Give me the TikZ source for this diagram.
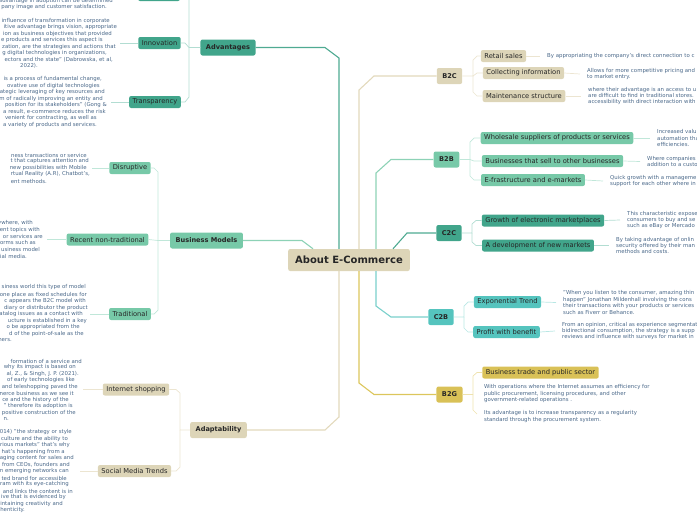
\documentclass[tikz,border=0pt]{standalone}
\usepackage{fontspec}
\setmainfont{DejaVu Sans}
\usepackage{tikz}

\definecolor{beige}{HTML}{DDD5B8}
\definecolor{beigeline}{HTML}{E2D9BC}
\definecolor{beigetwig}{HTML}{ECE5D1}
\definecolor{mint}{HTML}{77C9A8}
\definecolor{mintline}{HTML}{8DD2B6}
\definecolor{minttwig}{HTML}{C0E7D9}
\definecolor{tealdark}{HTML}{41A58B}
\definecolor{tealline}{HTML}{4FAA92}
\definecolor{tealtwig}{HTML}{B2DDD2}
\definecolor{turq}{HTML}{55C4BE}
\definecolor{turqline}{HTML}{79D0CB}
\definecolor{turqtwig}{HTML}{B8E7E4}
\definecolor{gold}{HTML}{D9C157}
\definecolor{goldline}{HTML}{DCC65C}
\definecolor{goldtwig}{HTML}{EEE2AE}
\definecolor{notecol}{HTML}{4A6889}

\begin{document}
\begin{tikzpicture}[x=1pt, y=-1pt,
    box/.style={rounded corners=2pt, inner xsep=3.5pt, inner ysep=0pt,
      minimum height=12pt, text=black!85, font=\fontsize{6.7}{7.5}\selectfont},
    topic/.style={box, minimum height=16pt, inner xsep=5.5pt,
      font=\fontsize{6.6}{7}\selectfont\bfseries},
    note/.style={inner sep=0pt, align=left, text=notecol,
      font=\fontsize{5.4}{6.4}\selectfont},
    trunk/.style={line width=1.1pt},
    twig/.style={line width=0.7pt}]

\useasboundingbox (0,0) rectangle (697,520);
\clip (0,0) rectangle (697,520);

% Centre
\node[topic, fill=beige, minimum height=22pt, inner xsep=7pt,
  font=\fontsize{10}{12}\selectfont\bfseries] (ctr) at (349,260) {About E-Commerce};

% Right topics
\node[topic, fill=beige] (b2c) at (449.5,76) {B2C};
\node[topic, fill=mint] (b2b) at (446.5,159.5) {B2B};
\node[topic, fill=tealdark] (c2c) at (449,233) {C2C};
\node[topic, fill=turq] (c2b) at (441,317) {C2B};
\node[topic, fill=gold] (b2g) at (449.5,394.5) {B2G};

% Left topics
\node[topic, fill=tealdark] (adv) at (228,47.5) {Advantages};
\node[topic, fill=mint] (bm) at (206.5,240.5) {Business Models};
\node[topic, fill=beige] (adp) at (218.5,430) {Adaptability};

% Trunks
\draw[trunk, beigeline] ([xshift=10pt]ctr.north) -- (359,90) -- (374,76) -- (b2c.west);
\draw[trunk, mintline] ([xshift=27pt]ctr.north) -- (376,173) -- (391,159.5) -- (b2b.west);
\draw[trunk, tealline] ([xshift=44pt]ctr.north) -- (407,233) -- (c2c.west);
\draw[trunk, turqline] ([xshift=27pt]ctr.south) -- (376,306) -- (391,317) -- (c2b.west);
\draw[trunk, goldline] ([xshift=10pt]ctr.south) -- (359,383) -- (374,394.5) -- (b2g.west);
\draw[trunk, tealline] ([xshift=-10pt]ctr.north) -- (339,58) -- (325,47.5) -- (adv.east);
\draw[trunk, mintline] ([xshift=-36pt]ctr.north) -- (302,240.5) -- (bm.east);
\draw[trunk, beigeline] ([xshift=-10pt]ctr.south) -- (339,417) -- (325,430) -- (adp.east);

% B2C
\node[box, fill=beige] (retail) at (503.5,56) {Retail sales};
\node[box, fill=beige] (collect) at (523.5,73) {Collecting information};
\node[box, fill=beige] (maint) at (524,96) {Maintenance structure};
\draw[twig, beigetwig] (b2c.east) -- (473,76) -- (473,60) -- (477,56) -- (retail.west);
\draw[twig, beigetwig] (473,76) -- (477,73) -- (collect.west);
\draw[twig, beigetwig] (473,76) -- (473,92) -- (477,96) -- (maint.west);
\node[note, anchor=west] (retailnote) at (547,56)
  {By appropriating the company's direct connection to c};
\node[note, anchor=west] (collectnote) at (587,74)
  {Allows for more competitive pricing and\\to market entry.};
\node[note, anchor=west] (maintnote) at (588,96)
  {where their advantage is an access to u\\are difficult to find in traditional stores.\\accessibility with direct interaction with};
\draw[twig, beigetwig] (retail.east) -- ([xshift=-7pt]retailnote.west);
\draw[twig, beigetwig] (collect.east) -- ([xshift=-7pt]collectnote.west);
\draw[twig, beigetwig] (maint.east) -- ([xshift=-7pt]maintnote.west);

% B2B
\node[box, fill=mint] (whole) at (557,138) {Wholesale suppliers of products or services};
\node[box, fill=mint] (sell) at (552.5,161) {Businesses that sell to other businesses};
\node[box, fill=mint] (efra) at (533,180) {E-frastructure and e-markets};
\draw[twig, minttwig] (b2b.east) -- (470,159.5) -- (470,142) -- (474,138) -- (whole.west);
\draw[twig, minttwig] (470,159.5) -- (474,161) -- (sell.west);
\draw[twig, minttwig] (470,159.5) -- (470,176) -- (474,180) -- (efra.west);
\node[note, anchor=west] (wholenote) at (657,138)
  {Increased valu\\automation tha\\efficiencies.};
\node[note, anchor=west] (sellnote) at (647,161.5)
  {Where companies\\addition to a custo};
\node[note, anchor=west] (efranote) at (610,181)
  {Quick growth with a manageme\\support for each other where in};
\draw[twig, minttwig] (whole.east) -- ([xshift=-7pt]wholenote.west);
\draw[twig, minttwig] (sell.east) -- ([xshift=-7pt]sellnote.west);
\draw[twig, minttwig] (efra.east) -- ([xshift=-7pt]efranote.west);

% C2C
\node[box, fill=tealdark] (growth) at (543,220.5) {Growth of electronic marketplaces};
\node[box, fill=tealdark] (newmkt) at (538,245.5) {A development of new markets};
\draw[twig, tealtwig] (c2c.east) -- (472,233) -- (472,224) -- (476,220.5) -- (growth.west);
\draw[twig, tealtwig] (472,233) -- (472,242) -- (476,245.5) -- (newmkt.west);
\node[note, anchor=west] (growthnote) at (627,220)
  {This characteristic expose\\consumers to buy and se\\such as eBay or Mercado};
\node[note, anchor=west] (newmktnote) at (616,245.5)
  {By taking advantage of onlin\\security offered by their man\\methods and costs.};
\draw[twig, tealtwig] (growth.east) -- ([xshift=-7pt]growthnote.west);
\draw[twig, tealtwig] (newmkt.east) -- ([xshift=-7pt]newmktnote.west);

% C2B
\node[box, fill=turq] (expo) at (507.5,302) {Exponential Trend};
\node[box, fill=turq] (profit) at (506.5,332) {Profit with benefit};
\draw[twig, turqtwig] (c2b.east) -- (464,317) -- (464,306) -- (468,302) -- (expo.west);
\draw[twig, turqtwig] (464,317) -- (464,328) -- (468,332) -- (profit.west);
\node[note, anchor=west] (exponote) at (563,302.5)
  {"When you listen to the consumer, amazing thin\\happen" Jonathan Mildenhall involving the cons\\their transactions with your products or services\\such as Fiverr or Behance.};
\node[note, anchor=west] (profitnote) at (562,331)
  {From an opinion, critical as experience segmentat\\bidirectional consumption, the strategy is a supp\\reviews and influence with surveys for market in};
\draw[twig, turqtwig] (expo.east) -- ([xshift=-7pt]exponote.west);
\draw[twig, turqtwig] (profit.east) -- ([xshift=-7pt]profitnote.west);

% B2G
\node[box, fill=gold] (trade) at (540.5,372.5) {Business trade and public sector};
\node[note, anchor=north west] (g2note) at (484,384.5)
  {With operations where the Internet assumes an efficiency for\\public procurement, licensing procedures, and other\\government-related operations .};
\node[note, anchor=north west] (g3note) at (484,410.5)
  {Its advantage is to increase transparency as a regularity\\standard through the procurement system.};
\draw[twig, goldtwig] (b2g.east) -- (473,394.5) -- (473,376) -- (477,372.5) -- (trade.west);
\draw[twig, goldtwig] (473,394.5) -- (473,410) -- (477,414);

% Advantages
\node[box, fill=tealdark, minimum width=42pt] (topadv) at (159,-5) {};
\node[box, fill=tealdark] (innov) at (159.5,43) {Innovation};
\node[box, fill=tealdark] (transp) at (155,102) {Transparency};
\draw[twig, tealtwig] (adv.west) -- (189,47.5) -- (189,-1) -- (185,-5) -- (topadv.east);
\draw[twig, tealtwig] (189,47.5) -- (185,43) -- (innov.east);
\draw[twig, tealtwig] (189,47.5) -- (189,97) -- (185,102) -- (transp.east);
\coordinate (innovtip) at (120,43);
\coordinate (transptip) at (111,102);
\draw[twig, tealtwig] (innov.west) -- (innovtip);
\draw[twig, tealtwig] (transp.west) -- (transptip);
\foreach \ty/\rx/\tx [count=\i] in {1/113/{advantage in adoption can be determined},
    7/107/{pany image and customer satisfaction.}}
  \node[note, anchor=east] (topnote\i) at (\rx,\ty) {\tx};
\foreach \ty/\rx/\tx [count=\i] in {21/110/{influence of transformation in corporate},
    27/117/{itive advantage brings vision, appropriate},
    34/112/{ion as business objectives that provided},
    40/103/{e products and services this aspect is},
    47/116/{zation, are the strategies and actions that},
    53/107/{g digital technologies in organizations,},
    60/113/{ectors and the state" (Dabrowska, et al,},
    66/38/{2022).}}
  \node[note, anchor=east] (innovnote\i) at (\rx,\ty) {\tx};
\foreach \ty/\rx/\tx [count=\i] in {79/102/{is a process of fundamental change,},
    86/100/{ovative use of digital technologies},
    92/105/{ategic leveraging of key resources and},
    99/103/{m of radically improving an entity and},
    105/107/{position for its stakeholders" (Gong \&},
    112/106/{a result, e-commerce reduces the risk},
    118/97/{venient for contracting, as well as},
    125/97/{a variety of products and services.}}
  \node[note, anchor=east] (transpnote\i) at (\rx,\ty) {\tx};

% Business Models
\node[box, fill=mint] (disr) at (130,168) {Disruptive};
\node[box, fill=mint] (recent) at (107.5,239.5) {Recent non-traditional};
\node[box, fill=mint] (trad) at (130,314) {Traditional};
\draw[twig, minttwig] (bm.west) -- (158,240.5) -- (158,172) -- (154,168) -- (disr.east);
\draw[twig, minttwig] (158,240.5) -- (recent.east);
\draw[twig, minttwig] (158,240.5) -- (158,310) -- (154,314) -- (trad.east);
\coordinate (disrtip) at (92,168);
\coordinate (recenttip) at (47,239.5);
\coordinate (tradtip) at (90,314);
\draw[twig, minttwig] (disr.west) -- (disrtip);
\draw[twig, minttwig] (recent.west) -- (recenttip);
\draw[twig, minttwig] (trad.west) -- (tradtip);
\foreach \ty/\rx/\tx [count=\i] in {155/87/{ness transactions or service},
    161/89/{t that captures attention and},
    168/87/{new possibilities with Mobile},
    174/90/{rtual Reality (A.R), Chatbot's,},
    181/47/{ent methods.}}
  \node[note, anchor=east] (disrnote\i) at (\rx,\ty) {\tx};
\foreach \ty/\rx/\tx [count=\i] in {223/33/{ywhere, with},
    230/40/{ent topics with},
    236/43/{or services are},
    242/36/{tforms such as},
    249/40/{usiness model},
    256/27/{ial media.}}
  \node[note, anchor=east] (recentnote\i) at (\rx,\ty) {\tx};
\foreach \ty/\rx/\tx [count=\i] in {287/86/{siness world this type of model},
    295/87/{one place as fixed schedules for},
    301/86/{c appears the B2C model with},
    308/88/{diary or distributor the product},
    314/83/{catalog issues as a contact with},
    321/87/{ucture is established in a key},
    327/80/{o be appropriated from the},
    334/84/{d of the point-of-sale as the},
    340/12/{ners.}}
  \node[note, anchor=east] (tradnote\i) at (\rx,\ty) {\tx};

% Adaptability
\node[box, fill=beige] (inet) at (136,389.5) {Internet shopping};
\node[box, fill=beige] (social) at (134.5,471) {Social Media Trends};
\draw[twig, beigetwig] (adp.west) -- (180,430) -- (180,393) -- (176,389.5) -- (inet.east);
\draw[twig, beigetwig] (180,430) -- (180,467) -- (176,471) -- (social.east);
\coordinate (inettip) at (83,389.5);
\coordinate (socialtip) at (80,471);
\draw[twig, beigetwig] (inet.west) -- (inettip);
\draw[twig, beigetwig] (social.west) -- (socialtip);
\foreach \ty/\rx/\tx [count=\i] in {361/82/{formation of a service and},
    367/76/{why its impact is based on},
    374/79/{al, Z., \& Singh, J. P. (2021).},
    380/75/{of early technologies like},
    387/78/{and teleshopping paved the},
    393/74/{nerce business as we see it},
    400/69/{ce and the history of the},
    406/73/{" therefore its adoption is},
    413/76/{positive construction of the},
    419/9/{n.}}
  \node[note, anchor=east] (inetnote\i) at (\rx,\ty) {\tx};
\foreach \ty/\rx/\tx [count=\i] in {432/72/{014) "the strategy or style},
    439/68/{culture and the ability to},
    445/70/{rious markets" that's why},
    452/65/{hat's happening from a},
    458/74/{aging content for sales and},
    465/70/{from CEOs, founders and},
    471/69/{n emerging networks can},
    478/67/{ted brand for accessible},
    484/69/{ram with its eye-catching},
    491/73/{and links the content is in},
    497/66/{ive that is evidenced by},
    504/63/{aintaining creativity and},
    510/25/{thenticity.}}
  \node[note, anchor=east] (socialnote\i) at (\rx,\ty) {\tx};

\end{tikzpicture}
\end{document}
